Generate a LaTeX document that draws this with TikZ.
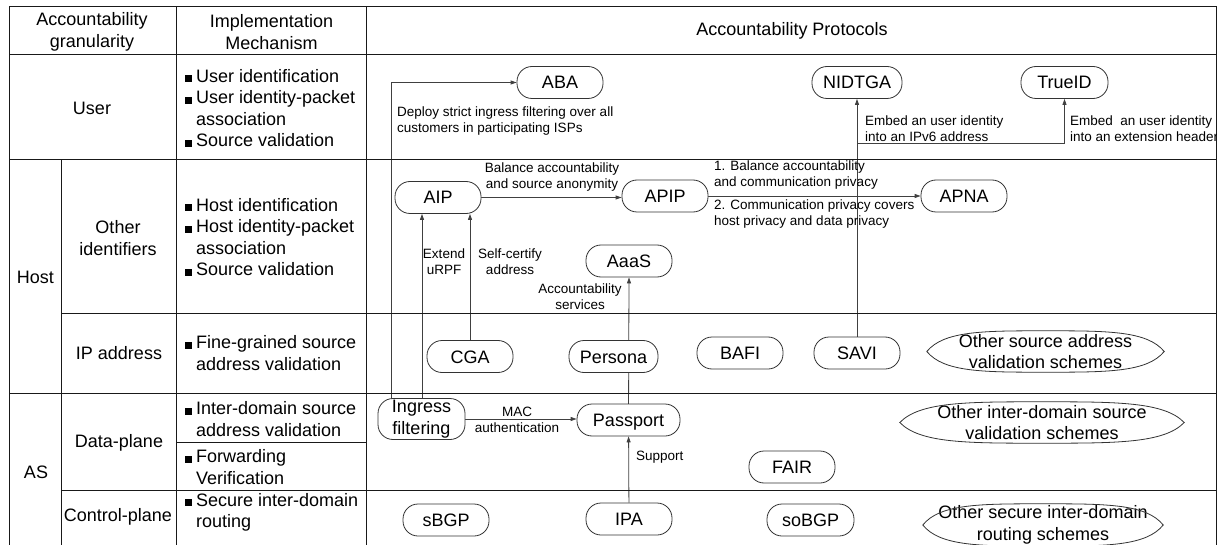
\documentclass[tikz,border=0pt]{standalone}
\usepackage{fontspec}
\setmainfont{Liberation Sans}
\usetikzlibrary{arrows.meta,backgrounds}
% square bullet and matching hanging indent for the mechanism column
\newcommand{\sqbul}{\makebox[11pt][l]{\rule{7pt}{7pt}}}
\newcommand{\hangin}{\hspace*{11pt}}
% pinched oval outline around a box-shaped node: #1 node, #2 end pull, #3 top pull
\newcommand{\pinchedoval}[3]{%
  \draw[ovalline] (#1.west)
    .. controls ([xshift=#2]#1.north west) and ([xshift=-#3]#1.north) .. (#1.north)
    .. controls ([xshift=#3]#1.north) and ([xshift=-#2]#1.north east) .. (#1.east)
    .. controls ([xshift=-#2]#1.south east) and ([xshift=#3]#1.south) .. (#1.south)
    .. controls ([xshift=-#3]#1.south) and ([xshift=#2]#1.south west) .. (#1.west) -- cycle;}
\tikzset{
  tabline/.style={line width=1pt, draw=black!90},
  txt/.style={font=\fontsize{18}{21.5}\selectfont, inner sep=0pt, align=center},
  mech/.style={font=\fontsize{18}{21.5}\selectfont, inner sep=0pt, align=left, anchor=west},
  lbl/.style={font=\fontsize{13.5}{16}\selectfont, inner sep=0pt},
  pill/.style={draw=black!80, fill=white, line width=0.8pt, rounded corners=15pt,
    minimum width=86pt, minimum height=32pt, inner sep=0pt,
    font=\fontsize{18}{21.5}\selectfont},
  proto/.style={pill, text height=13pt, text depth=0pt},
  ovalbox/.style={txt, minimum height=41pt},
  ovalline/.style={draw=black!80, line width=0.8pt},
  arr/.style={-{Triangle[length=6pt,width=4pt]}, line width=0.8pt, draw=black!75}
}
\begin{document}
\begin{tikzpicture}[x=1pt,y=-1pt]
\useasboundingbox (0,0) rectangle (1217,545);

% ---- table grid ----
\draw[tabline] (9,7) -- (1216.5,7);
\draw[tabline] (9,55) -- (1216.5,55);
\draw[tabline] (9,160) -- (1216.5,160);
\draw[tabline] (61,313) -- (1216.5,313);
\draw[tabline] (9,393) -- (1216.5,393);
\draw[tabline] (176,442) -- (366,442);
\draw[tabline] (61,490) -- (1216.5,490);
\draw[tabline] (9,7) -- (9,545);
\draw[tabline] (61,160) -- (61,545);
\draw[tabline] (176,7) -- (176,545);
\draw[tabline] (366,7) -- (366,545);
\draw[tabline] (1216.5,7) -- (1216.5,545);

% ---- header ----
\node[txt] (h1) at (92,32) {Accountability\\granularity};
\node[txt] (h2) at (271.5,32) {Implementation\\Mechanism};
\node[txt] (h3) at (792,31) {Accountability Protocols};

% ---- granularity column ----
\node[txt] (gUser) at (92,108) {User};
\node[txt] (gHost) at (35.5,277) {Host};
\node[txt] (gOther) at (118,238) {Other\\identifiers};
\node[txt] (gIP) at (119,353) {IP address};
\node[txt] (gAS) at (36,472) {AS};
\node[txt] (gData) at (119,443) {Data-plane};
\node[txt] (gCtrl) at (118,517) {Control-plane};

% ---- mechanism column ----
\node[mech] (mUser) at (185,108) {\sqbul User identification\\\sqbul User identity-packet\\\hangin association\\\sqbul Source validation};
\node[mech] (mHost) at (185,237) {\sqbul Host identification\\\sqbul Host identity-packet\\\hangin association\\\sqbul Source validation};
\node[mech] (mIP) at (185,353) {\sqbul Fine-grained source\\\hangin address validation};
\node[mech] (mInter) at (185,419) {\sqbul Inter-domain source\\\hangin address validation};
\node[mech] (mFwd) at (185,467) {\sqbul Forwarding\\\hangin Verification};
\node[mech] (mSec) at (185,512.5) {\sqbul Secure inter-domain\\\hangin routing};

% ---- protocols ----
\node[proto] (ABA) at (560,82.5) {ABA};
\node[proto, minimum width=90pt] (NIDTGA) at (857,82.5) {NIDTGA};
\node[proto, minimum width=87pt] (TrueID) at (1064.5,82.5) {TrueID};
\node[proto] (AIP) at (438,197.5) {AIP};
\node[proto] (APIP) at (665,196) {APIP};
\node[proto] (APNA) at (964,196) {APNA};
\node[proto] (AaaS) at (629,261) {AaaS};
\node[proto] (CGA) at (470,356.5) {CGA};
\node[proto, minimum width=89pt] (Persona) at (613.5,356.5) {Persona};
\node[proto] (BAFI) at (740,353) {BAFI};
\node[proto] (SAVI) at (857,353) {SAVI};
\node[pill, minimum width=87pt, minimum height=41pt, align=center] (ingress) at (421.5,419) {Ingress\\filtering};
\node[proto, minimum width=103pt] (Passport) at (628.5,420) {Passport};
\node[proto] (FAIR) at (792,467) {FAIR};
\node[proto] (sBGP) at (446,520) {sBGP};
\node[proto] (IPA) at (629,519) {IPA};
\node[proto, minimum width=87pt] (soBGP) at (810.5,520) {soBGP};

\node[ovalbox, minimum width=237pt] (osav) at (1045.5,351.5) {Other source address\\validation schemes};
\pinchedoval{osav}{17pt}{62pt}
\node[ovalbox, minimum width=284pt] (oisv) at (1042,422.5) {Other inter-domain source\\validation schemes};
\pinchedoval{oisv}{20pt}{75pt}
\node[ovalbox, minimum width=240pt, minimum height=42pt] (osir) at (1043,525) {Other secure inter-domain\\routing schemes};
\pinchedoval{osir}{17pt}{63pt}

% ---- connector labels ----
\node[lbl, align=left, anchor=west] (lABA) at (397,121) {Deploy strict ingress filtering over all\\customers in participating ISPs};
\node[lbl, align=left, anchor=south west] (lNID) at (865,142) {Embed an user identity\\into an IPv6 address};
\node[lbl, align=left, anchor=south west] (lTrue) at (1070,142) {Embed\ \ an user identity\\into an extension header};
\node[lbl, align=center, anchor=south] (lAIP) at (552,192) {Balance accountability\\and source anonymity};
\node[lbl, align=left, anchor=south west] (lAPIP1) at (714,190) {1. Balance accountability\\and communication privacy};
\node[lbl, align=left, anchor=north west] (lAPIP2) at (714,200) {2. Communication privacy covers\\host privacy and data privacy};
\node[lbl, align=center] (lURPF) at (444,262) {Extend\\uRPF};
\node[lbl, align=center] (lSelf) at (510,262) {Self-certify\\address};
\node[lbl, align=center] (lAcc) at (580,296.5) {Accountability\\services};
\node[lbl, align=center] (lMAC) at (517,420) {MAC\\authentication};
\node[lbl, anchor=west] (lSup) at (636,457) {Support};

% ---- connectors (behind the white-filled nodes) ----
\coordinate (fork) at (857,143);
\begin{scope}[on background layer]
  \draw[arr] ([xshift=-30.5pt]ingress.center) |- (ABA.west);
  \draw[arr] ([xshift=-16pt]AIP.south |- ingress.center) -- ([xshift=-16pt]AIP.south);
  \draw[arr] (CGA.center) -- (CGA.center |- AIP.south);
  \draw[arr] (AIP) -- (APIP.west |- AIP.center);
  \draw[arr] (APIP) -- (APNA);
  \draw[arr] (Passport.center) -- (AaaS.south);
  \draw[arr] (ingress) -- (Passport.west |- ingress.center);
  \draw[arr] (IPA) -- (Passport);
  \draw[arr] (SAVI) -- (NIDTGA);
  \draw[arr] (fork) -| (TrueID.south);
\end{scope}
\end{tikzpicture}
\end{document}
